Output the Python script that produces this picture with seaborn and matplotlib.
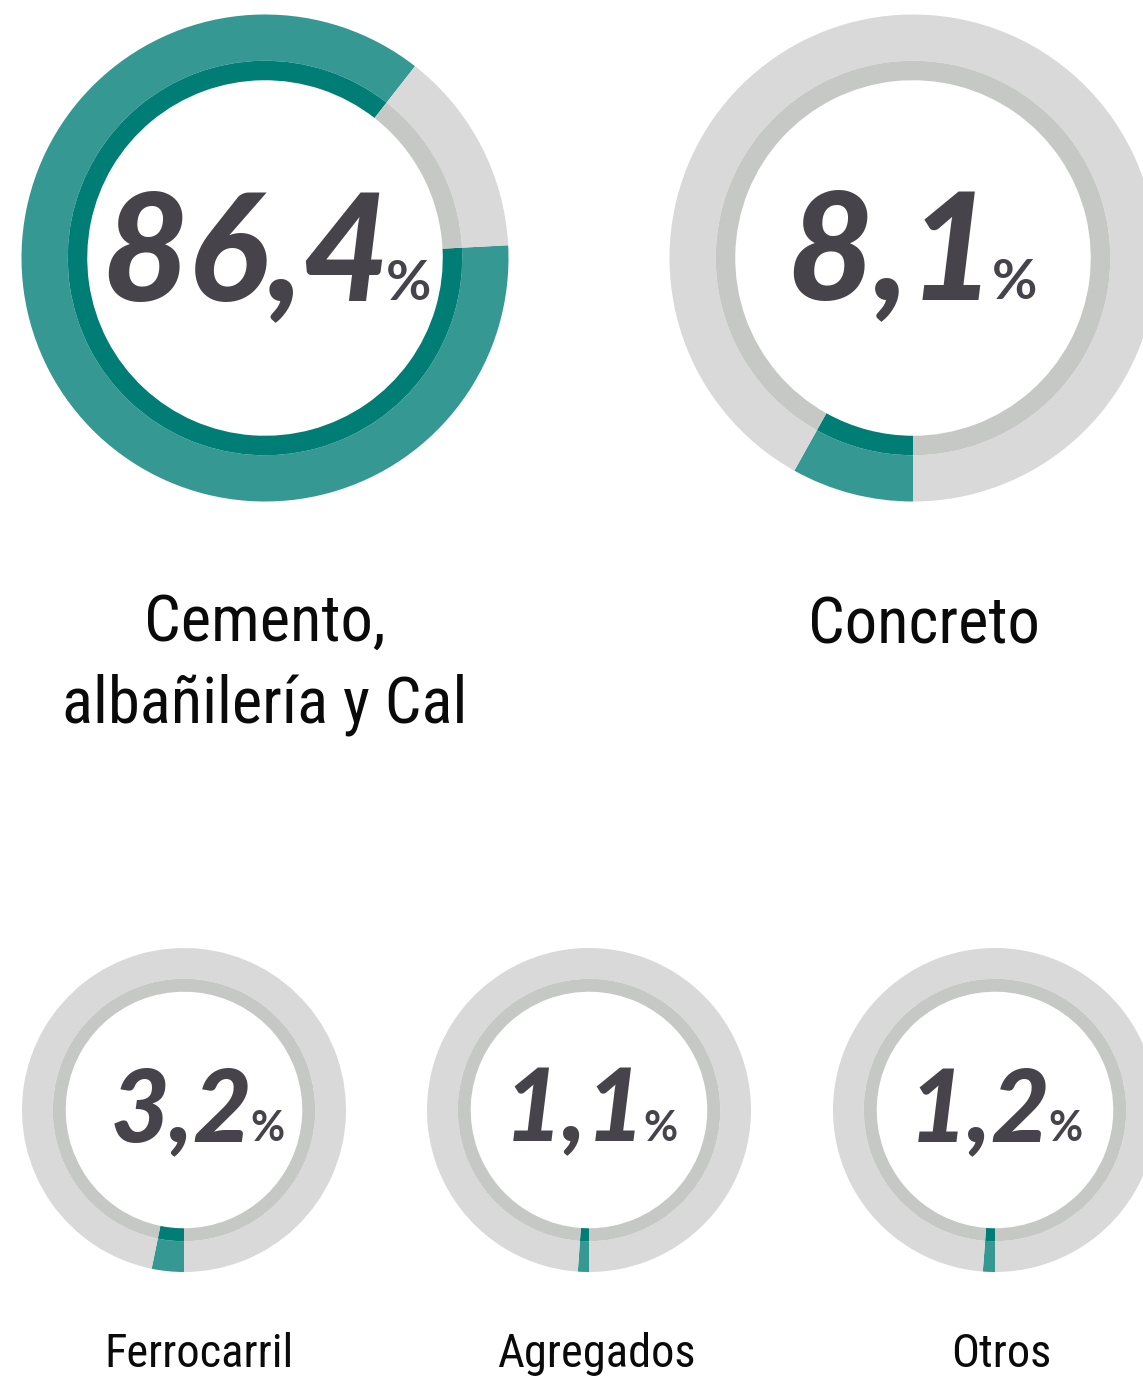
"""
Donut charts: share of each sector (Cemento, Concreto, Ferrocarril, ...).

Output:
  out.png
"""

import matplotlib

matplotlib.use("Agg")

import matplotlib.pyplot as plt
import seaborn as sns
from matplotlib import font_manager


# data
categories = ["Cemento,\nalbañilería y Cal", "Concreto", "Ferrocarril", "Agregados", "Otros"]
shares = [86.4, 8.1, 3.2, 1.1, 1.2]

# layout (pixels, measured from the top-left corner)
W, H = 1143, 1378
centers = [(265, 258), (913, 258), (184, 1110), (589, 1110), (995, 1110)]
radii = [243.5, 243.5, 162, 162, 162]
start_angles = [3, 270, 270, 270, 270]
number_centers = [267, 912, 198, 591, 996]
number_baselines = [300, 299, 1141, 1141, 1141]
label_pos = [(265, 722), (924, 643), (199, 1367), (596, 1367), (1001, 1367)]

LIGHT_GRAY = "#d9d9d9"
MID_GRAY = "#c6c8c5"
TEAL = "#359892"
DARK_TEAL = "#007d75"
NUM_COLOR = "#46444a"
LABEL_COLOR = "#0a0a0a"


def pick_font(candidates):
    names = {f.name for f in font_manager.fontManager.ttflist}
    for name in candidates:
        if name in names:
            return name
    return "DejaVu Sans"


def fmt_share(v):
    return f"{v:.1f}".replace(".", ",")


def draw_donut(ax, value, cx, cy, r, start):
    # outer band: teal share over light gray
    ax.pie(
        [value, 100 - value],
        colors=[TEAL, LIGHT_GRAY],
        radius=r,
        center=(cx, cy),
        startangle=start,
        counterclock=False,
        wedgeprops=dict(width=0.19 * r, linewidth=0),
        frame=True,
    )
    # inner thin band
    ax.pie(
        [value, 100 - value],
        colors=[DARK_TEAL, MID_GRAY],
        radius=0.81 * r,
        center=(cx, cy),
        startangle=start,
        counterclock=False,
        wedgeprops=dict(width=0.08 * r, linewidth=0),
        frame=True,
    )


sns.set_theme(style="white")
label_font = pick_font(["Liberation Sans Narrow", "Roboto Condensed", "Open Sans Condensed", "Roboto"])
number_font = pick_font(["Lato", "Roboto", "Open Sans"])
plt.rcParams["font.family"] = [label_font, "DejaVu Sans"]

fig = plt.figure(figsize=(W / 100, H / 100), dpi=100)
ax = fig.add_axes([0, 0, 1, 1])

for value, (cx, cy), r, start in zip(shares, centers, radii, start_angles):
    draw_donut(ax, value, cx, H - cy, r, start)

ax.set_xlim(0, W)
ax.set_ylim(0, H)
ax.set_aspect("equal")
ax.axis("off")

fig.canvas.draw()
renderer = fig.canvas.get_renderer()

for i, value in enumerate(shares):
    big = radii[i] > 200
    num_size = 107 if big else 73
    pct_size = 40 if big else 30
    gap = -4 if big else -2
    yb = H - number_baselines[i]
    x0 = centers[i][0]
    num = ax.text(
        x0, yb, fmt_share(value), ha="right", va="baseline",
        fontsize=num_size, fontweight="black", fontstyle="italic",
        family=[number_font, "DejaVu Sans"], color=NUM_COLOR,
    )
    pct = ax.text(
        x0 + gap, yb, "%", ha="left", va="baseline",
        fontsize=pct_size, fontweight="bold",
        family=[number_font, "DejaVu Sans"], color=NUM_COLOR,
    )
    bb1 = num.get_window_extent(renderer)
    bb2 = pct.get_window_extent(renderer)
    shift = number_centers[i] - (bb1.x0 + bb2.x1) / 2
    num.set_x(x0 + shift)
    pct.set_x(x0 + gap + shift)

for i, name in enumerate(categories):
    lx, ly = label_pos[i]
    size = 46.5 if radii[i] > 200 else 33.5
    ax.text(
        lx, H - ly, name, ha="center", va="baseline", ma="center",
        fontsize=size, color=LABEL_COLOR, linespacing=1.39,
    )

fig.savefig("out.png", dpi=100)
plt.close(fig)
